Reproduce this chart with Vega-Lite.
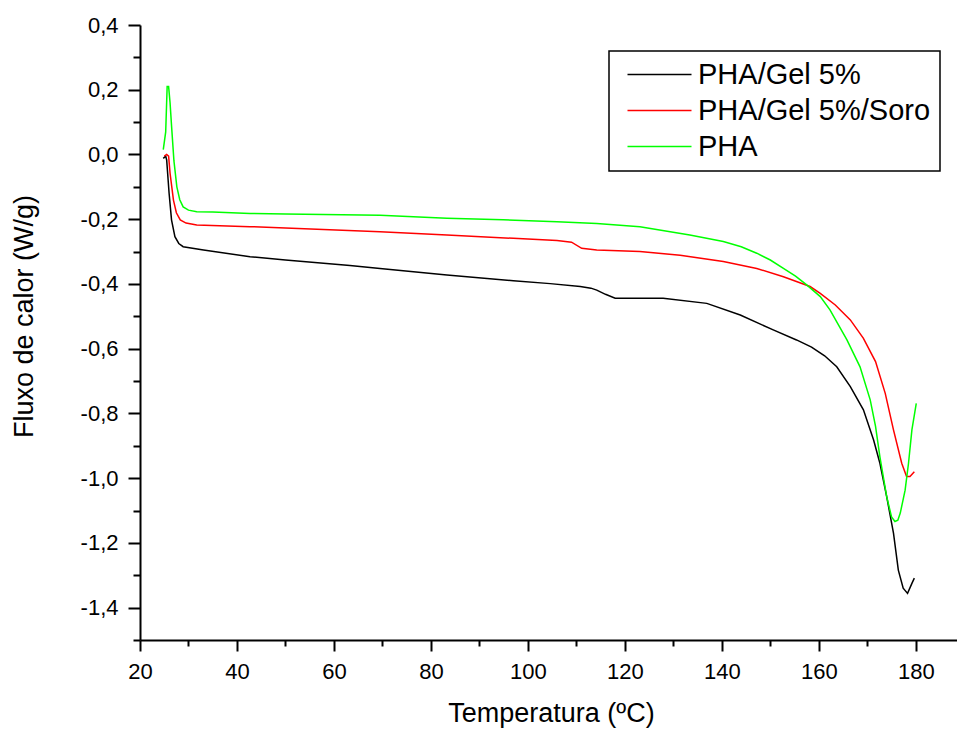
{
  "$schema": "https://vega.github.io/schema/vega-lite/v6.json",
  "width": 817,
  "height": 615,
  "autosize": "none",
  "padding": {"left": 140, "top": 25, "right": 0, "bottom": 90},
  "background": "white",
  "config": {
    "view": {"stroke": null},
    "font": "Liberation Sans",
    "axis": {
      "labelFont": "Liberation Sans",
      "labelFontSize": 22,
      "labelColor": "#000",
      "tickColor": "#000",
      "tickWidth": 2,
      "domainColor": "#000",
      "domainWidth": 2,
      "grid": false,
      "labelFlush": false,
      "labelOverlap": false,
      "titleFont": "Liberation Sans",
      "titleFontSize": 27,
      "titleFontWeight": "normal",
      "titleColor": "#000"
    },
    "legend": {"strokeWidth": 1.5}
  },
  "data": {
    "values": [
      {"series": "PHA/Gel 5%", "temp": 24.8, "flux": -0.012},
      {"series": "PHA/Gel 5%", "temp": 25.3, "flux": -0.005},
      {"series": "PHA/Gel 5%", "temp": 25.5, "flux": -0.017},
      {"series": "PHA/Gel 5%", "temp": 26.0, "flux": -0.12},
      {"series": "PHA/Gel 5%", "temp": 26.5, "flux": -0.202},
      {"series": "PHA/Gel 5%", "temp": 27.2, "flux": -0.254},
      {"series": "PHA/Gel 5%", "temp": 28.0, "flux": -0.275},
      {"series": "PHA/Gel 5%", "temp": 28.9, "flux": -0.285},
      {"series": "PHA/Gel 5%", "temp": 33.1, "flux": -0.295},
      {"series": "PHA/Gel 5%", "temp": 42.7, "flux": -0.316},
      {"series": "PHA/Gel 5%", "temp": 50, "flux": -0.326},
      {"series": "PHA/Gel 5%", "temp": 63.3, "flux": -0.343},
      {"series": "PHA/Gel 5%", "temp": 69.5, "flux": -0.352},
      {"series": "PHA/Gel 5%", "temp": 83.3, "flux": -0.372},
      {"series": "PHA/Gel 5%", "temp": 97, "flux": -0.39},
      {"series": "PHA/Gel 5%", "temp": 104.6, "flux": -0.399},
      {"series": "PHA/Gel 5%", "temp": 110.8, "flux": -0.408},
      {"series": "PHA/Gel 5%", "temp": 113.0, "flux": -0.413},
      {"series": "PHA/Gel 5%", "temp": 114.2, "flux": -0.419},
      {"series": "PHA/Gel 5%", "temp": 116, "flux": -0.432},
      {"series": "PHA/Gel 5%", "temp": 118.0, "flux": -0.444},
      {"series": "PHA/Gel 5%", "temp": 127.9, "flux": -0.444},
      {"series": "PHA/Gel 5%", "temp": 136.9, "flux": -0.46},
      {"series": "PHA/Gel 5%", "temp": 143.8, "flux": -0.496},
      {"series": "PHA/Gel 5%", "temp": 150.6, "flux": -0.542},
      {"series": "PHA/Gel 5%", "temp": 155.4, "flux": -0.573},
      {"series": "PHA/Gel 5%", "temp": 158.5, "flux": -0.595},
      {"series": "PHA/Gel 5%", "temp": 161.2, "flux": -0.622},
      {"series": "PHA/Gel 5%", "temp": 163.7, "flux": -0.656},
      {"series": "PHA/Gel 5%", "temp": 166.5, "flux": -0.717},
      {"series": "PHA/Gel 5%", "temp": 169.2, "flux": -0.789},
      {"series": "PHA/Gel 5%", "temp": 171.3, "flux": -0.882},
      {"series": "PHA/Gel 5%", "temp": 172.6, "flux": -0.954},
      {"series": "PHA/Gel 5%", "temp": 174.0, "flux": -1.057},
      {"series": "PHA/Gel 5%", "temp": 175.4, "flux": -1.17},
      {"series": "PHA/Gel 5%", "temp": 176.4, "flux": -1.284},
      {"series": "PHA/Gel 5%", "temp": 177.4, "flux": -1.34},
      {"series": "PHA/Gel 5%", "temp": 178.3, "flux": -1.356},
      {"series": "PHA/Gel 5%", "temp": 179.2, "flux": -1.325},
      {"series": "PHA/Gel 5%", "temp": 179.7, "flux": -1.309},

      {"series": "PHA/Gel 5%/Soro", "temp": 25.0, "flux": -0.005},
      {"series": "PHA/Gel 5%/Soro", "temp": 25.5, "flux": 0.0},
      {"series": "PHA/Gel 5%/Soro", "temp": 25.9, "flux": -0.005},
      {"series": "PHA/Gel 5%/Soro", "temp": 26.2, "flux": -0.058},
      {"series": "PHA/Gel 5%/Soro", "temp": 26.9, "flux": -0.141},
      {"series": "PHA/Gel 5%/Soro", "temp": 27.5, "flux": -0.18},
      {"series": "PHA/Gel 5%/Soro", "temp": 28.3, "flux": -0.202},
      {"series": "PHA/Gel 5%/Soro", "temp": 29.5, "flux": -0.212},
      {"series": "PHA/Gel 5%/Soro", "temp": 31.7, "flux": -0.218},
      {"series": "PHA/Gel 5%/Soro", "temp": 42.7, "flux": -0.223},
      {"series": "PHA/Gel 5%/Soro", "temp": 50, "flux": -0.227},
      {"series": "PHA/Gel 5%/Soro", "temp": 69.5, "flux": -0.239},
      {"series": "PHA/Gel 5%/Soro", "temp": 83.3, "flux": -0.249},
      {"series": "PHA/Gel 5%/Soro", "temp": 97, "flux": -0.259},
      {"series": "PHA/Gel 5%/Soro", "temp": 106, "flux": -0.266},
      {"series": "PHA/Gel 5%/Soro", "temp": 109, "flux": -0.271},
      {"series": "PHA/Gel 5%/Soro", "temp": 111.1, "flux": -0.29},
      {"series": "PHA/Gel 5%/Soro", "temp": 114.2, "flux": -0.295},
      {"series": "PHA/Gel 5%/Soro", "temp": 123.1, "flux": -0.3},
      {"series": "PHA/Gel 5%/Soro", "temp": 131.4, "flux": -0.311},
      {"series": "PHA/Gel 5%/Soro", "temp": 140.3, "flux": -0.331},
      {"series": "PHA/Gel 5%/Soro", "temp": 147.2, "flux": -0.352},
      {"series": "PHA/Gel 5%/Soro", "temp": 152.7, "flux": -0.378},
      {"series": "PHA/Gel 5%/Soro", "temp": 158.2, "flux": -0.408},
      {"series": "PHA/Gel 5%/Soro", "temp": 160.3, "flux": -0.429},
      {"series": "PHA/Gel 5%/Soro", "temp": 163.4, "flux": -0.465},
      {"series": "PHA/Gel 5%/Soro", "temp": 166.5, "flux": -0.511},
      {"series": "PHA/Gel 5%/Soro", "temp": 169.2, "flux": -0.568},
      {"series": "PHA/Gel 5%/Soro", "temp": 171.7, "flux": -0.64},
      {"series": "PHA/Gel 5%/Soro", "temp": 173.7, "flux": -0.738},
      {"series": "PHA/Gel 5%/Soro", "temp": 175.4, "flux": -0.851},
      {"series": "PHA/Gel 5%/Soro", "temp": 177.1, "flux": -0.954},
      {"series": "PHA/Gel 5%/Soro", "temp": 178.1, "flux": -0.995},
      {"series": "PHA/Gel 5%/Soro", "temp": 178.8, "flux": -0.995},
      {"series": "PHA/Gel 5%/Soro", "temp": 179.7, "flux": -0.98},

      {"series": "PHA", "temp": 24.8, "flux": 0.015},
      {"series": "PHA", "temp": 25.3, "flux": 0.07},
      {"series": "PHA", "temp": 25.6, "flux": 0.21},
      {"series": "PHA", "temp": 25.9, "flux": 0.21},
      {"series": "PHA", "temp": 26.2, "flux": 0.16},
      {"series": "PHA", "temp": 26.5, "flux": 0.09},
      {"series": "PHA", "temp": 27.0, "flux": -0.02},
      {"series": "PHA", "temp": 27.6, "flux": -0.1},
      {"series": "PHA", "temp": 28.2, "flux": -0.14},
      {"series": "PHA", "temp": 28.9, "flux": -0.162},
      {"series": "PHA", "temp": 30.0, "flux": -0.172},
      {"series": "PHA", "temp": 31.7, "flux": -0.177},
      {"series": "PHA", "temp": 35, "flux": -0.178},
      {"series": "PHA", "temp": 42.7, "flux": -0.182},
      {"series": "PHA", "temp": 50, "flux": -0.184},
      {"series": "PHA", "temp": 69.5, "flux": -0.188},
      {"series": "PHA", "temp": 83.3, "flux": -0.197},
      {"series": "PHA", "temp": 94.9, "flux": -0.202},
      {"series": "PHA", "temp": 106, "flux": -0.208},
      {"series": "PHA", "temp": 114.2, "flux": -0.213},
      {"series": "PHA", "temp": 123.1, "flux": -0.223},
      {"series": "PHA", "temp": 133.4, "flux": -0.249},
      {"series": "PHA", "temp": 140.3, "flux": -0.269},
      {"series": "PHA", "temp": 144, "flux": -0.285},
      {"series": "PHA", "temp": 147.2, "flux": -0.305},
      {"series": "PHA", "temp": 150, "flux": -0.326},
      {"series": "PHA", "temp": 152.7, "flux": -0.352},
      {"series": "PHA", "temp": 155.2, "flux": -0.376},
      {"series": "PHA", "temp": 157.5, "flux": -0.403},
      {"series": "PHA", "temp": 160.3, "flux": -0.439},
      {"series": "PHA", "temp": 162.3, "flux": -0.48},
      {"series": "PHA", "temp": 165.8, "flux": -0.573},
      {"series": "PHA", "temp": 168.5, "flux": -0.656},
      {"series": "PHA", "temp": 170.6, "flux": -0.758},
      {"series": "PHA", "temp": 171.7, "flux": -0.84},
      {"series": "PHA", "temp": 172.6, "flux": -0.934},
      {"series": "PHA", "temp": 174.0, "flux": -1.057},
      {"series": "PHA", "temp": 175.0, "flux": -1.12},
      {"series": "PHA", "temp": 175.7, "flux": -1.134},
      {"series": "PHA", "temp": 176.3, "flux": -1.13},
      {"series": "PHA", "temp": 176.8, "flux": -1.108},
      {"series": "PHA", "temp": 177.8, "flux": -1.037},
      {"series": "PHA", "temp": 178.5, "flux": -0.954},
      {"series": "PHA", "temp": 179.2, "flux": -0.851},
      {"series": "PHA", "temp": 180.1, "flux": -0.769}
    ]
  },
  "layer": [
    {
      "mark": {"type": "line", "strokeWidth": 1.5},
      "encoding": {
        "x": {
          "field": "temp",
          "type": "quantitative",
          "scale": {"domain": [20, 188.5], "nice": false, "zero": false},
          "axis": {
            "orient": "bottom",
            "values": [20, 40, 60, 80, 100, 120, 140, 160, 180],
            "format": "d",
            "tickSize": 11,
            "labelPadding": 10,
            "title": "Temperatura (ºC)",
            "titleBaseline": "alphabetic",
            "titleAlign": "center",
            "titleX": 411,
            "titleY": 81
          }
        },
        "y": {
          "field": "flux",
          "type": "quantitative",
          "scale": {"domain": [-1.5, 0.4], "nice": false, "zero": false},
          "axis": {
            "orient": "left",
            "values": [-1.4, -1.2, -1.0, -0.8, -0.6, -0.4, -0.2, 0.0, 0.2, 0.4],
            "labelExpr": "(datum.value < 0 ? '-' : '') + replace(format(abs(datum.value), '.1f'), '.', ',')",
            "tickSize": 12,
            "labelPadding": 10,
            "title": "Fluxo de calor (W/g)",
            "titleBaseline": "alphabetic",
            "titleAlign": "center",
            "titleAngle": 270,
            "titleX": -108,
            "titleY": 291
          }
        },
        "color": {
          "field": "series",
          "type": "nominal",
          "sort": ["PHA/Gel 5%", "PHA/Gel 5%/Soro", "PHA"],
          "scale": {
            "domain": ["PHA/Gel 5%", "PHA/Gel 5%/Soro", "PHA"],
            "range": ["#000000", "#ff0000", "#00ff00"]
          },
          "legend": {
            "orient": "none",
            "legendX": 469,
            "legendY": 26,
            "title": null,
            "symbolType": "M-1,0H15",
            "symbolSize": 64,
            "symbolStrokeWidth": 1.5,
            "symbolOffset": -1,
            "labelOffset": 52,
            "labelFont": "Liberation Sans",
            "labelFontSize": 29,
            "labelColor": "#000",
            "labelLimit": 400,
            "padding": 9,
            "rowPadding": 6,
            "strokeColor": "#000",
            "fillColor": "#ffffff"
          }
        }
      }
    },
    {
      "mark": {"type": "point", "opacity": 0},
      "encoding": {
        "x": {
          "field": "temp",
          "type": "quantitative",
          "scale": {"domain": [20, 188.5], "nice": false, "zero": false},
          "axis": {
            "orient": "bottom",
            "values": [30, 50, 70, 90, 110, 130, 150, 170],
            "labels": false,
            "domain": false,
            "tickSize": 6,
            "title": null
          }
        },
        "y": {
          "field": "flux",
          "type": "quantitative",
          "scale": {"domain": [-1.5, 0.4], "nice": false, "zero": false},
          "axis": {
            "orient": "left",
            "values": [0.3, 0.1, -0.1, -0.3, -0.5, -0.7, -0.9, -1.1, -1.3, -1.5],
            "labels": false,
            "domain": false,
            "tickSize": 7,
            "title": null
          }
        }
      }
    }
  ],
  "resolve": {"axis": {"x": "independent", "y": "independent"}}
}
